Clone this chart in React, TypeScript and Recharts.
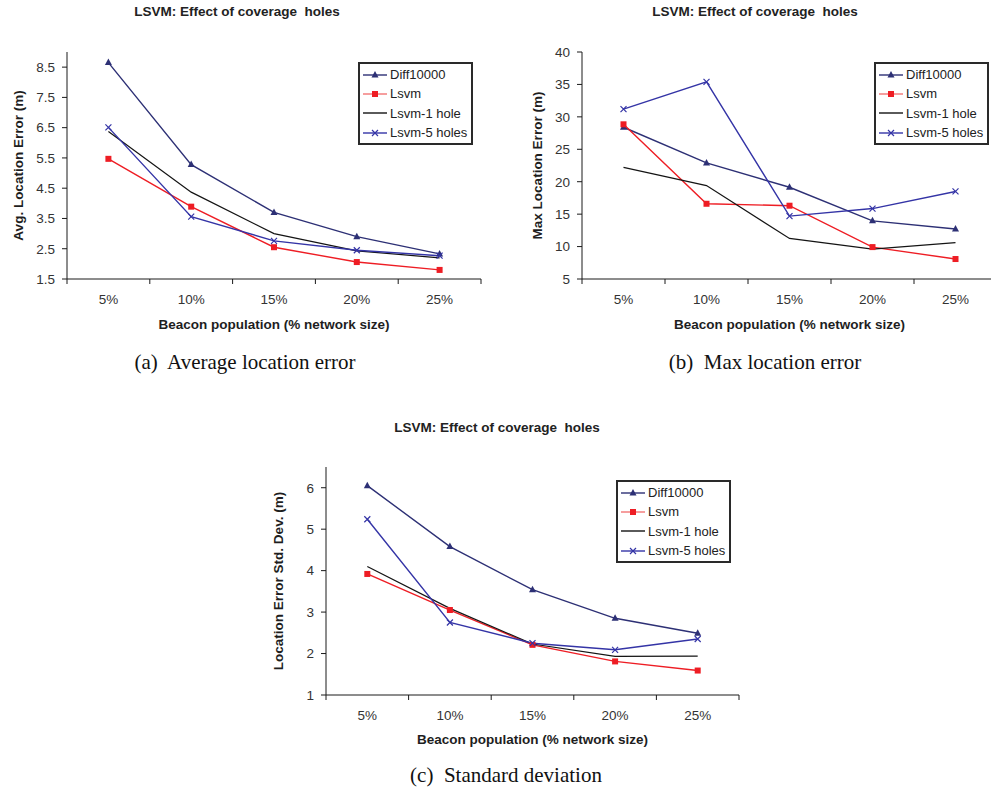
import { Legend, Line, LineChart, XAxis, YAxis } from "recharts";

const categories = ["5%", "10%", "15%", "20%", "25%"];

// (a) average location error (m)
const avgDiff10000 = [8.65, 5.28, 3.7, 2.9, 2.33];
const avgLsvm = [5.47, 3.89, 2.55, 2.06, 1.8];
const avgOneHole = [6.37, 4.37, 3.0, 2.43, 2.2];
const avgFiveHoles = [6.51, 3.56, 2.76, 2.45, 2.27];
const avgTicks = [1.5, 2.5, 3.5, 4.5, 5.5, 6.5, 7.5, 8.5];

// (b) max location error (m)
const maxDiff10000 = [28.4, 22.9, 19.15, 13.97, 12.7];
const maxLsvm = [28.85, 16.6, 16.3, 9.92, 8.08];
const maxOneHole = [22.2, 19.4, 11.25, 9.6, 10.6];
const maxFiveHoles = [31.2, 35.4, 14.7, 15.86, 18.5];
const maxTicks = [5, 10, 15, 20, 25, 30, 35, 40];

// (c) standard deviation (m)
const sdDiff10000 = [6.05, 4.58, 3.54, 2.85, 2.49];
const sdLsvm = [3.92, 3.05, 2.21, 1.81, 1.59];
const sdOneHole = [4.1, 3.09, 2.23, 1.93, 1.94];
const sdFiveHoles = [5.24, 2.75, 2.25, 2.09, 2.35];
const sdTicks = [1, 2, 3, 4, 5, 6];

const seriesNames = ["Diff10000", "Lsvm", "Lsvm-1 hole", "Lsvm-5 holes"];
const chartTitle = "LSVM: Effect of coverage  holes";
const xTitle = "Beacon population (% network size)";

const SANS = '"Liberation Sans", Arial, Helvetica, sans-serif';
const SERIF = '"Liberation Serif", "Times New Roman", serif';
const AXIS = "#1a1a1a";
const FRAME = "#a8a8a8";
const TICK_TEXT = "#333";
const TICK_SIZE = 13.5;

const SERIES = [
  { key: "diff", color: "#2d3075", legendColor: "#2d3075", width: 1.4, marker: "triangle" },
  { key: "lsvm", color: "#ee1d24", legendColor: "#f27474", width: 1.4, marker: "square" },
  { key: "hole1", color: "#141414", legendColor: "#141414", width: 1.2, marker: "none" },
  { key: "hole5", color: "#3434a6", legendColor: "#3434a6", width: 1.4, marker: "cross" },
];

function Marker({ type, cx, cy, color }: any) {
  if (type === "triangle")
    return <polygon points={`${cx},${cy - 4} ${cx - 3.5},${cy + 2.5} ${cx + 3.5},${cy + 2.5}`} fill={color} />;
  if (type === "square") return <rect x={cx - 3} y={cy - 3} width={6} height={6} fill={color} />;
  if (type === "cross")
    return (
      <path
        d={`M${cx - 3},${cy - 3}L${cx + 3},${cy + 3}M${cx - 3},${cy + 3}L${cx + 3},${cy - 3}`}
        stroke={color}
        strokeWidth={1.2}
      />
    );
  return null;
}

function CatTick({ x, y, payload, index, band, count }: any) {
  const axisY = y - 15;
  return (
    <g>
      <line x1={x - band / 2} x2={x - band / 2} y1={axisY} y2={axisY + 5} stroke={AXIS} />
      {index === count - 1 && (
        <line x1={x + band / 2} x2={x + band / 2} y1={axisY} y2={axisY + 5} stroke={AXIS} />
      )}
      <text x={x} y={y} dy="0.71em" textAnchor="middle" fontSize={TICK_SIZE} fill={TICK_TEXT}>
        {payload.value}
      </text>
    </g>
  );
}

function LegendBox({ payload }: any) {
  const items = [...(payload || [])].sort(
    (a: any, b: any) =>
      SERIES.findIndex((s) => s.key === a.dataKey) - SERIES.findIndex((s) => s.key === b.dataKey)
  );
  return (
    <div
      style={{
        border: "2px solid #2a2a2a",
        background: "#fff",
        padding: "1px 0 1px 3px",
        fontFamily: SANS,
        fontSize: 13,
        color: "#222",
      }}
    >
      {items.map((item: any) => {
        const s = SERIES.find((d) => d.key === item.dataKey)!;
        return (
          <div key={item.dataKey} style={{ display: "flex", alignItems: "center", height: 19.3 }}>
            <svg width={24} height={10} style={{ marginRight: 3 }}>
              <line x1={0} x2={24} y1={5} y2={5} stroke={s.legendColor} strokeWidth={1.4} />
              <Marker type={s.marker} cx={12} cy={5} color={s.color} />
            </svg>
            <span>{item.value}</span>
          </div>
        );
      })}
    </div>
  );
}

type PanelSpec = {
  id: string;
  x: number;
  y: number;
  w: number;
  h: number;
  plotLeft: number;
  plotTop: number;
  plotRight: number;
  plotBottom: number;
  yDomain: number[];
  yTicks: number[];
  yLabel: string;
  yLabelX: number;
  xLabelOffset: number;
  legendLeft: number;
  legendTop: number;
  values: number[][];
};

const panels: PanelSpec[] = [
  {
    id: "a", x: 0, y: 0, w: 490, h: 345,
    plotLeft: 67, plotTop: 52, plotRight: 481, plotBottom: 279,
    yDomain: [1.5, 9], yTicks: avgTicks, yLabel: "Avg. Location Error (m)", yLabelX: 18, xLabelOffset: 0,
    legendLeft: 358, legendTop: 62,
    values: [avgDiff10000, avgLsvm, avgOneHole, avgFiveHoles],
  },
  {
    id: "b", x: 490, y: 0, w: 510, h: 345,
    plotLeft: 92, plotTop: 52, plotRight: 507, plotBottom: 279,
    yDomain: [5, 40], yTicks: maxTicks, yLabel: "Max Location Error (m)", yLabelX: 47, xLabelOffset: 0,
    legendLeft: 384, legendTop: 62,
    values: [maxDiff10000, maxLsvm, maxOneHole, maxFiveHoles],
  },
  {
    id: "c", x: 250, y: 410, w: 500, h: 345,
    plotLeft: 76, plotTop: 57, plotRight: 489, plotBottom: 285,
    yDomain: [1, 6.5], yTicks: sdTicks, yLabel: "Location Error Std. Dev. (m)", yLabelX: 28, xLabelOffset: 1,
    legendLeft: 366, legendTop: 70,
    values: [sdDiff10000, sdLsvm, sdOneHole, sdFiveHoles],
  },
];

const titles = [
  { id: "a", x: 237, y: 12 },
  { id: "b", x: 755, y: 12 },
  { id: "c", x: 497, y: 428 },
];

const captions = [
  { text: "(a)  Average location error", x: 245, y: 362 },
  { text: "(b)  Max location error", x: 765, y: 362 },
  { text: "(c)  Standard deviation", x: 506, y: 775 },
];

function Panel({ p }: { p: PanelSpec }) {
  const rows = categories.map((cat, i) => ({
    cat,
    diff: p.values[0][i],
    lsvm: p.values[1][i],
    hole1: p.values[2][i],
    hole5: p.values[3][i],
  }));
  const band = (p.plotRight - p.plotLeft) / categories.length;
  const xAxisH = 50;
  const margin = { top: p.plotTop, right: p.w - p.plotRight, left: 0, bottom: p.h - p.plotBottom - xAxisH };
  const labelStyle = { fontWeight: 700, fontSize: 13.5, fill: "#1e1e1e", fontFamily: SANS };

  return (
    <div style={{ position: "absolute", left: p.x, top: p.y }}>
      <LineChart width={p.w} height={p.h} data={rows} margin={margin} style={{ fontFamily: SANS }}>
        <XAxis xAxisId="frame" orientation="top" dataKey="cat" height={0} tick={false} tickLine={false} axisLine={{ stroke: FRAME }} />
        <YAxis yAxisId="frame" orientation="right" width={0} domain={p.yDomain} tick={false} tickLine={false} axisLine={{ stroke: FRAME }} />
        <XAxis
          dataKey="cat"
          height={xAxisH}
          interval={0}
          padding={{ left: band / 2, right: band / 2 }}
          tickLine={false}
          tickSize={5}
          tickMargin={10}
          tick={(t: any) => <CatTick {...t} band={band} count={categories.length} />}
          axisLine={{ stroke: AXIS }}
          label={{ value: xTitle, position: "insideBottom", offset: p.xLabelOffset, style: labelStyle }}
        />
        <YAxis
          width={p.plotLeft}
          domain={p.yDomain}
          ticks={p.yTicks}
          interval={0}
          tickSize={5}
          tickMargin={7}
          tick={{ fontSize: TICK_SIZE, fill: TICK_TEXT }}
          tickLine={{ stroke: AXIS }}
          axisLine={{ stroke: AXIS }}
          label={{
            value: p.yLabel,
            angle: -90,
            position: "insideLeft",
            offset: p.yLabelX,
            style: { ...labelStyle, textAnchor: "middle" },
          }}
        />
        <Legend
          layout="vertical"
          align="center"
          verticalAlign="middle"
          wrapperStyle={{ left: p.legendLeft, top: p.legendTop, width: 115 }}
          content={LegendBox}
        />
        {SERIES.map((s, i) => (
          <Line
            key={s.key}
            type="linear"
            dataKey={s.key}
            name={seriesNames[i]}
            stroke={s.color}
            strokeWidth={s.width}
            isAnimationActive={false}
            activeDot={false}
            dot={
              s.marker === "none"
                ? false
                : (d: any) => (
                    <g key={`${s.key}-${d.index}`}>
                      <Marker type={s.marker} cx={d.cx} cy={d.cy} color={s.color} />
                    </g>
                  )
            }
          />
        ))}
      </LineChart>
    </div>
  );
}

export default function App() {
  return (
    <div
      style={{
        position: "absolute",
        left: 0,
        top: 0,
        width: 991,
        height: 790,
        overflow: "hidden",
        background: "#fff",
        fontFamily: SANS,
      }}
    >
      {panels.map((p) => (
        <Panel key={p.id} p={p} />
      ))}
      {titles.map((t) => (
        <div
          key={t.id}
          style={{
            position: "absolute",
            left: t.x,
            top: t.y - 8,
            transform: "translateX(-50%)",
            whiteSpace: "pre",
            fontSize: 13.5,
            fontWeight: 700,
            color: "#222",
            lineHeight: "16px",
          }}
        >
          {chartTitle}
        </div>
      ))}
      {captions.map((c) => (
        <div
          key={c.text}
          style={{
            position: "absolute",
            left: c.x,
            top: c.y - 13,
            transform: "translateX(-50%)",
            whiteSpace: "pre",
            fontFamily: SERIF,
            fontSize: 21,
            color: "#111",
            lineHeight: "26px",
          }}
        >
          {c.text}
        </div>
      ))}
    </div>
  );
}
